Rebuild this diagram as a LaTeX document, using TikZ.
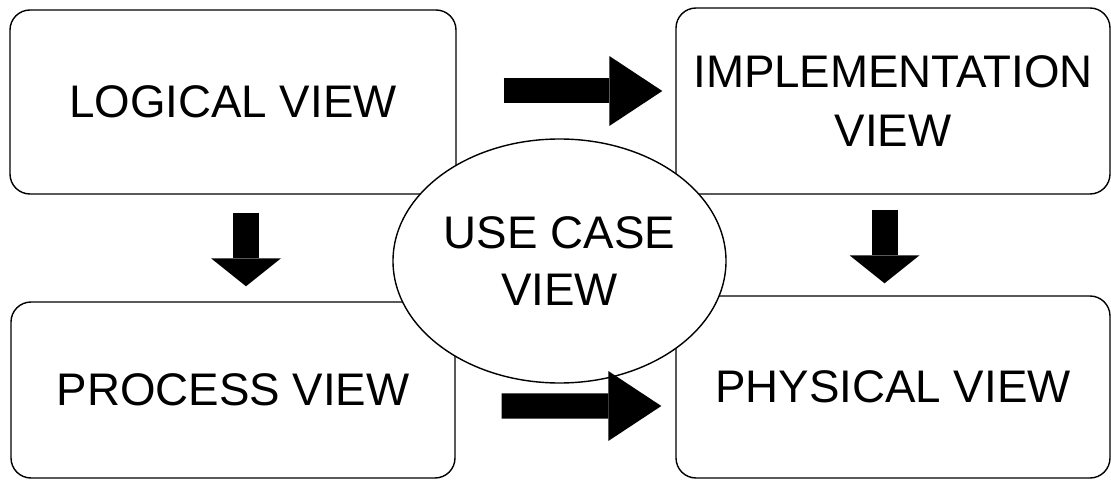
\documentclass[tikz,border=0pt]{standalone}
\usepackage{fontspec}
\setmainfont{Liberation Sans}
\usetikzlibrary{arrows.meta,shapes.geometric}

\tikzset{
    viewbox/.style={draw, line width=0.8pt, rounded corners=0.4cm, align=center,
        font=\fontsize{26}{34}\selectfont},
    sidearrow/.style={line width=0.5cm,
        -{Triangle[length=1.06cm, width=1.4cm, line width=0pt]}},
    downarrow/.style={line width=0.52cm,
        -{Triangle[length=0.56cm, width=1.4cm, line width=0pt]}}
}

\begin{document}
\begin{tikzpicture}
    \useasboundingbox (0,0) rectangle (22.22,9.58);
    \node[viewbox, minimum width=8.92cm, minimum height=3.68cm] (logical) at (4.66,7.54) {LOGICAL VIEW};
    \node[viewbox, minimum width=8.68cm, minimum height=3.72cm] (impl) at (17.86,7.56) {IMPLEMENTATION\\VIEW};
    \node[viewbox, minimum width=8.88cm, minimum height=3.52cm] (process) at (4.66,1.78) {PROCESS VIEW};
    \node[viewbox, minimum width=8.68cm, minimum height=3.64cm] (physical) at (17.86,1.84) {PHYSICAL VIEW};
    \node[viewbox, ellipse, fill=white, inner sep=0pt, font=\fontsize{26}{32.5}\selectfont,
        minimum width=6.66cm, minimum height=4.88cm] (usecase) at (11.19,4.36) {USE CASE\\VIEW};

    \draw[sidearrow] ([shift={(0.94,0.22)}]logical.east) -- ([shift={(-0.26,0.2)}]impl.west);
    \draw[sidearrow] ([shift={(0.92,-0.32)}]process.east) -- ([shift={(-0.28,-0.38)}]physical.west);
    \draw[downarrow] ([shift={(0.26,-0.36)}]logical.south) -- ([shift={(0.26,0.3)}]process.north);
    \draw[downarrow] ([shift={(-0.17,-0.3)}]impl.south) -- ([shift={(-0.17,0.24)}]physical.north);
\end{tikzpicture}
\end{document}
